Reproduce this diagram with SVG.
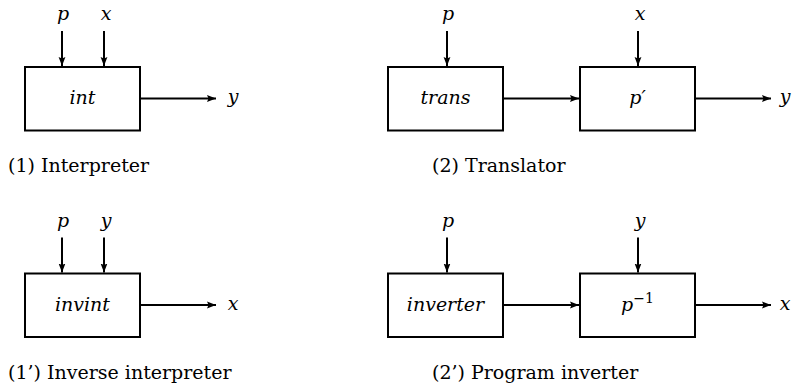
<svg xmlns="http://www.w3.org/2000/svg" width="795" height="387" viewBox="0 0 795 387">
  <style>
    .box { fill: #fff; stroke: #000; stroke-width: 2; }
    .wire { stroke: #000; stroke-width: 2; fill: none; marker-end: url(#head); }
    .var { font-family: "DejaVu Serif", "Liberation Serif", serif; font-style: italic; font-size: 19px; fill: #000; text-anchor: middle; }
    .sup { font-size: 14px; font-style: normal; }
    .cap { font-family: "DejaVu Serif", "Liberation Serif", serif; font-size: 19px; fill: #000; }
  </style>
  <defs>
    <marker id="head" markerUnits="userSpaceOnUse" markerWidth="10" markerHeight="8" refX="9" refY="4" orient="auto">
      <path d="M0,0.6 L9,4 L0,7.4 L1.5,4 z" fill="#000"/>
    </marker>
  </defs>

  <!-- connectors -->
  <g id="connectors">
    <!-- (1) interpreter -->
    <line class="wire" x1="62" y1="31" x2="62" y2="66"/>
    <line class="wire" x1="104" y1="31" x2="104" y2="66"/>
    <line class="wire" x1="140" y1="98.5" x2="216" y2="98.5"/>
    <!-- (2) translator -->
    <line class="wire" x1="447" y1="31" x2="447" y2="66"/>
    <line class="wire" x1="638" y1="31" x2="638" y2="66"/>
    <line class="wire" x1="503" y1="98.5" x2="579" y2="98.5"/>
    <line class="wire" x1="695" y1="98.5" x2="771" y2="98.5"/>
    <!-- (1') inverse interpreter -->
    <line class="wire" x1="62" y1="237.5" x2="62" y2="272.5"/>
    <line class="wire" x1="104" y1="237.5" x2="104" y2="272.5"/>
    <line class="wire" x1="140" y1="305" x2="216" y2="305"/>
    <!-- (2') program inverter -->
    <line class="wire" x1="447" y1="237.5" x2="447" y2="272.5"/>
    <line class="wire" x1="638" y1="237.5" x2="638" y2="272.5"/>
    <line class="wire" x1="503" y1="305" x2="579" y2="305"/>
    <line class="wire" x1="695" y1="305" x2="771" y2="305"/>
  </g>

  <!-- free variable labels -->
  <g id="labels">
    <text class="var" x="63" y="20">p</text>
    <text class="var" x="106" y="20">x</text>
    <text class="var" x="233" y="103">y</text>
    <text class="var" x="448" y="20">p</text>
    <text class="var" x="640" y="20">x</text>
    <text class="var" x="785" y="103">y</text>
    <text class="var" x="63" y="226.5">p</text>
    <text class="var" x="106" y="226.5">y</text>
    <text class="var" x="233" y="310">x</text>
    <text class="var" x="448" y="226.5">p</text>
    <text class="var" x="640" y="226.5">y</text>
    <text class="var" x="785" y="310">x</text>
  </g>

  <g id="int">
    <rect class="box" x="25" y="67" width="115" height="63.5"/>
    <text class="var" x="82.5" y="104">int</text>
  </g>
  <g id="trans">
    <rect class="box" x="388" y="67" width="115" height="63.5"/>
    <text class="var" x="445.5" y="104">trans</text>
  </g>
  <g id="p-prime">
    <rect class="box" x="580" y="67" width="115" height="63.5"/>
    <text class="var" x="637.5" y="104">p′</text>
  </g>
  <g id="invint">
    <rect class="box" x="25" y="273.5" width="115" height="63.5"/>
    <text class="var" x="82.5" y="311">invint</text>
  </g>
  <g id="inverter">
    <rect class="box" x="388" y="273.5" width="115" height="63.5"/>
    <text class="var" x="445.5" y="311">inverter</text>
  </g>
  <g id="p-inverse">
    <rect class="box" x="580" y="273.5" width="115" height="63.5"/>
    <text class="var" x="637.5" y="311">p<tspan class="sup" dy="-8">−1</tspan></text>
  </g>

  <!-- captions -->
  <g id="captions">
    <text class="cap" x="8" y="172">(1) Interpreter</text>
    <text class="cap" x="432" y="172">(2) Translator</text>
    <text class="cap" x="8" y="379">(1’) Inverse interpreter</text>
    <text class="cap" x="432" y="379">(2’) Program inverter</text>
  </g>
</svg>
